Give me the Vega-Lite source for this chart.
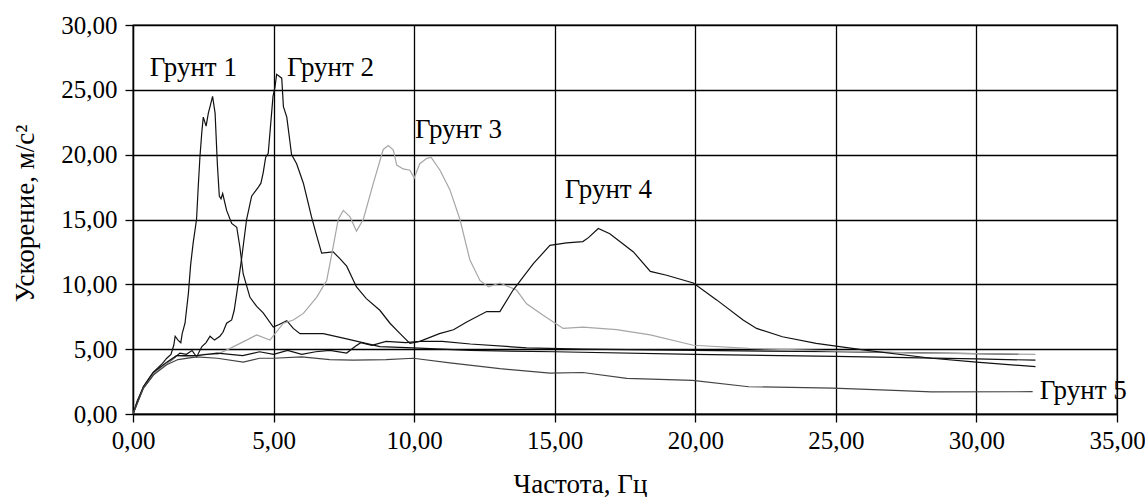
{
  "$schema": "https://vega.github.io/schema/vega-lite/v6.json",
  "width": 984,
  "height": 389,
  "autosize": {"type": "none"},
  "padding": {"left": 133, "top": 25, "right": 28, "bottom": 83},
  "background": "white",
  "config": {
    "font": "Liberation Serif",
    "view": {"stroke": "black", "strokeWidth": 1.3},
    "axis": {
      "grid": true, "gridColor": "#000", "gridWidth": 1.3, "gridOpacity": 1,
      "domainColor": "#000", "domainWidth": 1.3,
      "tickColor": "#000", "tickSize": 8, "tickWidth": 1.3,
      "labelFlush": false, "labelOverlap": false,
      "labelFont": "Liberation Serif", "labelFontSize": 25, "labelColor": "#000",
      "titleFont": "Liberation Serif", "titleFontSize": 27, "titleFontWeight": "normal", "titleColor": "#000"
    }
  },
  "datasets": {
    "curves": [
      {"s":"Грунт 1","f":0,"v":0},{"s":"Грунт 1","f":0.15,"v":1.0},{"s":"Грунт 1","f":0.37,"v":2.1},{"s":"Грунт 1","f":0.55,"v":2.7},{"s":"Грунт 1","f":0.72,"v":3.2},{"s":"Грунт 1","f":0.9,"v":3.6},{"s":"Грунт 1","f":1.05,"v":3.9},{"s":"Грунт 1","f":1.2,"v":4.3},{"s":"Грунт 1","f":1.35,"v":4.6},{"s":"Грунт 1","f":1.45,"v":5.3},{"s":"Грунт 1","f":1.5,"v":6.0},{"s":"Грунт 1","f":1.6,"v":5.7},{"s":"Грунт 1","f":1.7,"v":5.5},{"s":"Грунт 1","f":1.75,"v":6.2},{"s":"Грунт 1","f":1.85,"v":7.0},{"s":"Грунт 1","f":1.97,"v":9.3},{"s":"Грунт 1","f":2.05,"v":11.5},{"s":"Грунт 1","f":2.14,"v":13.2},{"s":"Грунт 1","f":2.26,"v":15.0},{"s":"Грунт 1","f":2.32,"v":17.5},{"s":"Грунт 1","f":2.38,"v":19.8},{"s":"Грунт 1","f":2.45,"v":21.8},{"s":"Грунт 1","f":2.5,"v":22.9},{"s":"Грунт 1","f":2.6,"v":22.2},{"s":"Грунт 1","f":2.68,"v":23.2},{"s":"Грунт 1","f":2.74,"v":23.7},{"s":"Грунт 1","f":2.83,"v":24.5},{"s":"Грунт 1","f":2.92,"v":23.2},{"s":"Грунт 1","f":3.0,"v":19.3},{"s":"Грунт 1","f":3.07,"v":16.8},{"s":"Грунт 1","f":3.13,"v":16.6},{"s":"Грунт 1","f":3.19,"v":17.0},{"s":"Грунт 1","f":3.33,"v":15.7},{"s":"Грунт 1","f":3.51,"v":14.7},{"s":"Грунт 1","f":3.69,"v":14.4},{"s":"Грунт 1","f":3.8,"v":12.9},{"s":"Грунт 1","f":3.92,"v":10.8},{"s":"Грунт 1","f":4.16,"v":9.0},{"s":"Грунт 1","f":4.4,"v":8.3},{"s":"Грунт 1","f":4.63,"v":7.8},{"s":"Грунт 1","f":4.99,"v":6.7},{"s":"Грунт 1","f":5.2,"v":6.9},{"s":"Грунт 1","f":5.47,"v":7.2},{"s":"Грунт 1","f":5.7,"v":6.6},{"s":"Грунт 1","f":5.94,"v":6.2},{"s":"Грунт 1","f":6.77,"v":6.2},{"s":"Грунт 1","f":7.6,"v":5.8},{"s":"Грунт 1","f":8.78,"v":5.2},{"s":"Грунт 1","f":9.97,"v":5.1},{"s":"Грунт 1","f":12,"v":4.9},{"s":"Грунт 1","f":15,"v":4.8},{"s":"Грунт 1","f":20,"v":4.6},{"s":"Грунт 1","f":25,"v":4.45},{"s":"Грунт 1","f":30,"v":4.25},{"s":"Грунт 1","f":32.1,"v":4.15},

      {"s":"Грунт 2","f":0,"v":0},{"s":"Грунт 2","f":0.15,"v":0.9},{"s":"Грунт 2","f":0.37,"v":2.0},{"s":"Грунт 2","f":0.72,"v":3.0},{"s":"Грунт 2","f":1.0,"v":3.6},{"s":"Грунт 2","f":1.2,"v":3.9},{"s":"Грунт 2","f":1.4,"v":4.2},{"s":"Грунт 2","f":1.67,"v":4.7},{"s":"Грунт 2","f":1.9,"v":4.6},{"s":"Грунт 2","f":2.1,"v":4.9},{"s":"Грунт 2","f":2.26,"v":4.4},{"s":"Грунт 2","f":2.45,"v":5.2},{"s":"Грунт 2","f":2.6,"v":5.5},{"s":"Грунт 2","f":2.74,"v":6.0},{"s":"Грунт 2","f":2.9,"v":5.7},{"s":"Грунт 2","f":3.09,"v":6.0},{"s":"Грунт 2","f":3.2,"v":6.3},{"s":"Грунт 2","f":3.33,"v":7.0},{"s":"Грунт 2","f":3.51,"v":7.25},{"s":"Грунт 2","f":3.6,"v":8.0},{"s":"Грунт 2","f":3.69,"v":9.3},{"s":"Грунт 2","f":3.87,"v":12.1},{"s":"Грунт 2","f":4.04,"v":15.0},{"s":"Грунт 2","f":4.22,"v":16.8},{"s":"Грунт 2","f":4.46,"v":17.5},{"s":"Грунт 2","f":4.55,"v":17.8},{"s":"Грунт 2","f":4.63,"v":18.6},{"s":"Грунт 2","f":4.72,"v":19.8},{"s":"Грунт 2","f":4.81,"v":20.1},{"s":"Грунт 2","f":4.93,"v":23.2},{"s":"Грунт 2","f":4.98,"v":24.5},{"s":"Грунт 2","f":5.05,"v":25.2},{"s":"Грунт 2","f":5.11,"v":26.2},{"s":"Грунт 2","f":5.29,"v":25.9},{"s":"Грунт 2","f":5.35,"v":23.7},{"s":"Грунт 2","f":5.47,"v":22.9},{"s":"Грунт 2","f":5.64,"v":20.0},{"s":"Грунт 2","f":5.82,"v":19.3},{"s":"Грунт 2","f":6.06,"v":17.8},{"s":"Грунт 2","f":6.35,"v":15.2},{"s":"Грунт 2","f":6.5,"v":14.0},{"s":"Грунт 2","f":6.71,"v":12.4},{"s":"Грунт 2","f":7.12,"v":12.5},{"s":"Грунт 2","f":7.35,"v":12.0},{"s":"Грунт 2","f":7.6,"v":11.4},{"s":"Грунт 2","f":7.95,"v":9.8},{"s":"Грунт 2","f":8.3,"v":8.9},{"s":"Грунт 2","f":8.78,"v":8.0},{"s":"Грунт 2","f":9.14,"v":7.0},{"s":"Грунт 2","f":9.5,"v":6.2},{"s":"Грунт 2","f":9.85,"v":5.45},{"s":"Грунт 2","f":10.2,"v":5.6},{"s":"Грунт 2","f":11,"v":5.6},{"s":"Грунт 2","f":12,"v":5.4},{"s":"Грунт 2","f":14,"v":5.1},{"s":"Грунт 2","f":16,"v":5.0},{"s":"Грунт 2","f":20,"v":4.9},{"s":"Грунт 2","f":25,"v":4.8},{"s":"Грунт 2","f":30,"v":4.65},{"s":"Грунт 2","f":31.5,"v":4.6},

      {"s":"Грунт 3","f":0,"v":0},{"s":"Грунт 3","f":0.37,"v":2.0},{"s":"Грунт 3","f":0.72,"v":3.1},{"s":"Грунт 3","f":1.2,"v":3.9},{"s":"Грунт 3","f":1.55,"v":4.5},{"s":"Грунт 3","f":2.0,"v":4.4},{"s":"Грунт 3","f":2.5,"v":4.6},{"s":"Грунт 3","f":3.0,"v":4.6},{"s":"Грунт 3","f":3.45,"v":5.06},{"s":"Грунт 3","f":4.04,"v":5.7},{"s":"Грунт 3","f":4.4,"v":6.1},{"s":"Грунт 3","f":4.87,"v":5.7},{"s":"Грунт 3","f":5.35,"v":7.0},{"s":"Грунт 3","f":5.7,"v":7.25},{"s":"Грунт 3","f":6.06,"v":7.76},{"s":"Грунт 3","f":6.53,"v":9.0},{"s":"Грунт 3","f":6.89,"v":10.3},{"s":"Грунт 3","f":7.12,"v":12.9},{"s":"Грунт 3","f":7.3,"v":15.0},{"s":"Грунт 3","f":7.48,"v":15.7},{"s":"Грунт 3","f":7.72,"v":15.2},{"s":"Грунт 3","f":7.95,"v":14.1},{"s":"Грунт 3","f":8.19,"v":15.0},{"s":"Грунт 3","f":8.55,"v":17.8},{"s":"Грунт 3","f":8.9,"v":20.4},{"s":"Грунт 3","f":9.08,"v":20.7},{"s":"Грунт 3","f":9.26,"v":20.35},{"s":"Грунт 3","f":9.38,"v":19.2},{"s":"Грунт 3","f":9.61,"v":18.9},{"s":"Грунт 3","f":9.85,"v":18.8},{"s":"Грунт 3","f":10.0,"v":18.2},{"s":"Грунт 3","f":10.2,"v":19.3},{"s":"Грунт 3","f":10.44,"v":19.7},{"s":"Грунт 3","f":10.6,"v":19.8},{"s":"Грунт 3","f":10.92,"v":18.8},{"s":"Грунт 3","f":11.27,"v":17.3},{"s":"Грунт 3","f":11.63,"v":15.0},{"s":"Грунт 3","f":11.98,"v":11.9},{"s":"Грунт 3","f":12.34,"v":10.3},{"s":"Грунт 3","f":12.64,"v":9.8},{"s":"Грунт 3","f":13.05,"v":10.1},{"s":"Грунт 3","f":13.64,"v":9.56},{"s":"Грунт 3","f":14.0,"v":8.5},{"s":"Грунт 3","f":14.6,"v":7.6},{"s":"Грунт 3","f":15.3,"v":6.6},{"s":"Грунт 3","f":16.0,"v":6.7},{"s":"Грунт 3","f":17.2,"v":6.5},{"s":"Грунт 3","f":18.4,"v":6.1},{"s":"Грунт 3","f":19.93,"v":5.3},{"s":"Грунт 3","f":21.9,"v":5.06},{"s":"Грунт 3","f":24.3,"v":4.9},{"s":"Грунт 3","f":28,"v":4.7},{"s":"Грунт 3","f":32.1,"v":4.6},

      {"s":"Грунт 4","f":0,"v":0},{"s":"Грунт 4","f":0.37,"v":2.1},{"s":"Грунт 4","f":0.72,"v":3.2},{"s":"Грунт 4","f":1.2,"v":4.0},{"s":"Грунт 4","f":1.55,"v":4.5},{"s":"Грунт 4","f":2.26,"v":4.5},{"s":"Грунт 4","f":3.0,"v":4.7},{"s":"Грунт 4","f":3.9,"v":4.5},{"s":"Грунт 4","f":4.5,"v":4.8},{"s":"Грунт 4","f":5.0,"v":4.6},{"s":"Грунт 4","f":5.5,"v":4.9},{"s":"Грунт 4","f":6.0,"v":4.6},{"s":"Грунт 4","f":6.5,"v":4.8},{"s":"Грунт 4","f":7.0,"v":4.9},{"s":"Грунт 4","f":7.6,"v":4.7},{"s":"Грунт 4","f":7.9,"v":5.2},{"s":"Грунт 4","f":8.1,"v":5.5},{"s":"Грунт 4","f":8.5,"v":5.3},{"s":"Грунт 4","f":9.0,"v":5.6},{"s":"Грунт 4","f":9.7,"v":5.5},{"s":"Грунт 4","f":10.2,"v":5.6},{"s":"Грунт 4","f":10.9,"v":6.2},{"s":"Грунт 4","f":11.4,"v":6.5},{"s":"Грунт 4","f":11.87,"v":7.1},{"s":"Грунт 4","f":12.58,"v":7.9},{"s":"Грунт 4","f":13.05,"v":7.9},{"s":"Грунт 4","f":13.52,"v":9.56},{"s":"Грунт 4","f":14.24,"v":11.6},{"s":"Грунт 4","f":14.83,"v":13.0},{"s":"Грунт 4","f":15.42,"v":13.2},{"s":"Грунт 4","f":16.0,"v":13.3},{"s":"Грунт 4","f":16.2,"v":13.6},{"s":"Грунт 4","f":16.55,"v":14.3},{"s":"Грунт 4","f":16.96,"v":13.9},{"s":"Грунт 4","f":17.8,"v":12.5},{"s":"Грунт 4","f":18.4,"v":11.0},{"s":"Грунт 4","f":18.98,"v":10.7},{"s":"Грунт 4","f":19.93,"v":10.1},{"s":"Грунт 4","f":20.76,"v":8.8},{"s":"Грунт 4","f":21.7,"v":7.25},{"s":"Грунт 4","f":22.18,"v":6.6},{"s":"Грунт 4","f":23.1,"v":5.96},{"s":"Грунт 4","f":24.3,"v":5.45},{"s":"Грунт 4","f":26.1,"v":4.9},{"s":"Грунт 4","f":28.4,"v":4.3},{"s":"Грунт 4","f":30.0,"v":4.0},{"s":"Грунт 4","f":32.1,"v":3.65},

      {"s":"Грунт 5","f":0,"v":0},{"s":"Грунт 5","f":0.37,"v":2.0},{"s":"Грунт 5","f":0.72,"v":3.0},{"s":"Грунт 5","f":1.2,"v":3.8},{"s":"Грунт 5","f":1.6,"v":4.2},{"s":"Грунт 5","f":2.26,"v":4.4},{"s":"Грунт 5","f":3.0,"v":4.3},{"s":"Грунт 5","f":3.92,"v":4.0},{"s":"Грунт 5","f":4.5,"v":4.3},{"s":"Грунт 5","f":4.99,"v":4.3},{"s":"Грунт 5","f":6.0,"v":4.4},{"s":"Грунт 5","f":7.0,"v":4.2},{"s":"Грунт 5","f":7.83,"v":4.16},{"s":"Грунт 5","f":9.0,"v":4.2},{"s":"Грунт 5","f":9.97,"v":4.3},{"s":"Грунт 5","f":11.27,"v":3.95},{"s":"Грунт 5","f":13.05,"v":3.5},{"s":"Грунт 5","f":14.83,"v":3.15},{"s":"Грунт 5","f":16.0,"v":3.2},{"s":"Грунт 5","f":17.56,"v":2.75},{"s":"Грунт 5","f":19.9,"v":2.6},{"s":"Грунт 5","f":21.9,"v":2.1},{"s":"Грунт 5","f":24.9,"v":2.0},{"s":"Грунт 5","f":27.3,"v":1.8},{"s":"Грунт 5","f":28.4,"v":1.7},{"s":"Грунт 5","f":32.0,"v":1.72}
    ],
    "labels": [
      {"t":"Грунт 1","f":0.6,"v":26.7},
      {"t":"Грунт 2","f":5.48,"v":26.7},
      {"t":"Грунт 3","f":10.03,"v":21.9},
      {"t":"Грунт 4","f":15.36,"v":17.3},
      {"t":"Грунт 5","f":32.25,"v":1.75}
    ]
  },
  "layer": [
    {
      "data": {"name": "curves"},
      "mark": {"type": "line", "strokeWidth": 1.2, "clip": true},
      "encoding": {
        "x": {"field": "f", "type": "quantitative",
              "scale": {"domain": [0, 35], "nice": false, "zero": false},
              "axis": {"values": [0,5,10,15,20,25,30,35], "title": "Частота, Гц",
                       "labelExpr": "replace(format(datum.value, '.2f'), '.', ',')",
                       "labelPadding": 6, "titleX": 447, "titleY": 78, "titleBaseline": "alphabetic"}},
        "y": {"field": "v", "type": "quantitative",
              "scale": {"domain": [0, 30], "nice": false},
              "axis": {"values": [0,5,10,15,20,25,30], "title": "Ускорение, м/с²",
                       "labelExpr": "replace(format(datum.value, '.2f'), '.', ',')",
                       "labelPadding": 8, "titleX": -108, "titleY": 188, "titleBaseline": "middle", "titleAlign": "center", "titleAngle": -90}},
        "color": {"field": "s", "type": "nominal", "legend": null,
                  "scale": {"domain": ["Грунт 1","Грунт 2","Грунт 3","Грунт 4","Грунт 5"],
                            "range": ["#111111","#111111","#a6a6a6","#111111","#444444"]}},
        "detail": {"field": "s"}
      }
    },
    {
      "data": {"name": "labels"},
      "mark": {"type": "text", "align": "left", "baseline": "middle", "font": "Liberation Serif", "fontSize": 27, "color": "#000"},
      "encoding": {
        "x": {"field": "f", "type": "quantitative"},
        "y": {"field": "v", "type": "quantitative"},
        "text": {"field": "t"}
      }
    }
  ]
}
